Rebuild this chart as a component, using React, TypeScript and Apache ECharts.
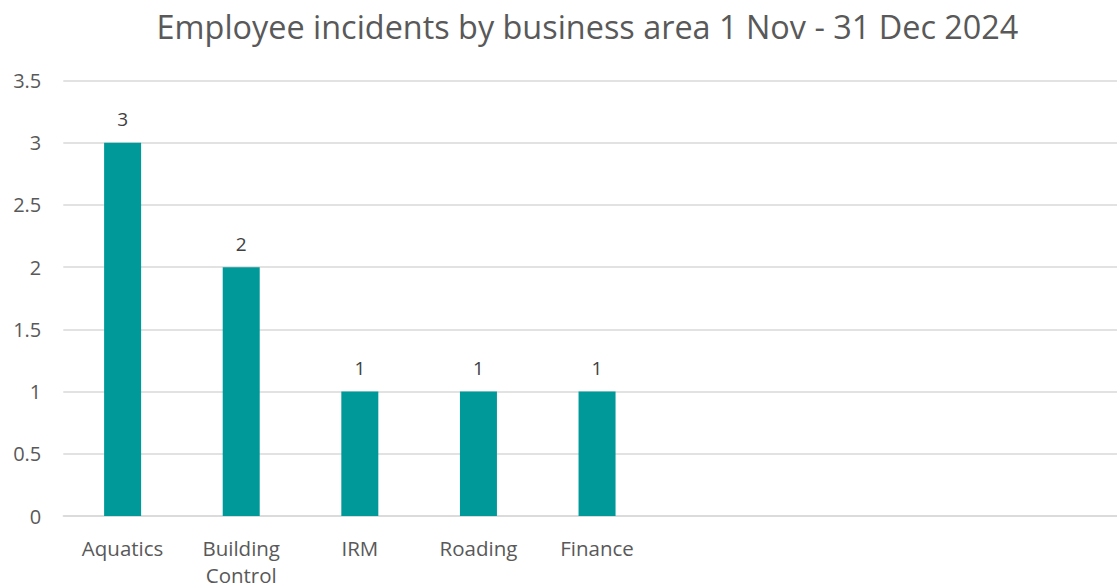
import React, { useEffect, useRef } from "react";
import * as echarts from "echarts";

const titleText = "Employee incidents by business area 1 Nov - 31 Dec 2024";
const categories = ["Aquatics", "Building\nControl", "IRM", "Roading", "Finance", "", "", "", ""];
const incidents = [3, 2, 1, 1, 1, null, null, null, null];
const yTicks = { min: 0, max: 3.5, interval: 0.5 };

export default function App() {
  const ref = useRef<HTMLDivElement>(null);
  useEffect(() => {
    if (!ref.current) return;
    const chart = echarts.init(ref.current, undefined, { renderer: "svg" });
    const font = "Open Sans";
    chart.setOption({
      animation: false,
      backgroundColor: "#ffffff",
      title: {
        text: titleText,
        left: 582.5,
        textAlign: "center",
        top: 5,
        textStyle: { fontFamily: font, fontSize: 32.4, fontWeight: "normal", color: "#595959" },
      },
      grid: {
        left: 63.3,
        top: 80.5,
        width: 1067.5,
        height: 435.5,
        containLabel: false,
        outerBoundsMode: "none",
      },
      xAxis: {
        type: "category",
        data: categories,
        axisLine: { show: true, lineStyle: { color: "#d9d9d9", width: 1.5 } },
        axisTick: { show: false },
        axisLabel: {
          interval: 0,
          margin: 18,
          fontFamily: font,
          fontSize: 20.5,
          color: "#595959",
          lineHeight: 27,
        },
      },
      yAxis: {
        type: "value",
        min: yTicks.min,
        max: yTicks.max,
        interval: yTicks.interval,
        axisLine: { show: false },
        axisTick: { show: false },
        splitLine: { lineStyle: { color: "#d9d9d9", width: 1.5 } },
        axisLabel: { margin: 22, fontFamily: font, fontSize: 20, color: "#595959" },
      },
      series: [
        {
          type: "bar",
          data: incidents,
          barWidth: 37,
          itemStyle: { color: "#009999" },
          label: {
            show: true,
            position: "top",
            distance: 14,
            fontFamily: font,
            fontSize: 19,
            color: "#404040",
          },
        },
      ],
    });
    return () => chart.dispose();
  }, []);
  return (
    <div style={{ position: "fixed", left: 0, top: 0, width: 1117, height: 585, overflow: "hidden", background: "#fff" }}>
      <div ref={ref} style={{ width: 1150, height: 585 }} />
    </div>
  );
}
